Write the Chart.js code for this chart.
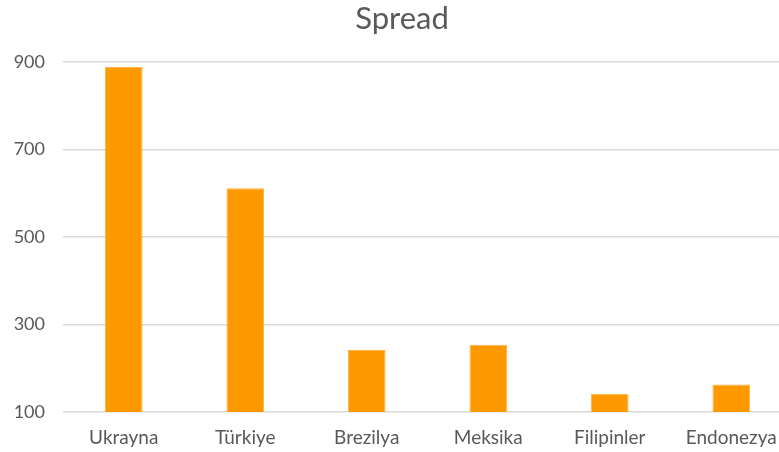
<!DOCTYPE html>
<html>
<head>
<meta charset="utf-8">
<script src="https://cdn.jsdelivr.net/npm/chart.js@4/dist/chart.umd.min.js"></script>
<style>
  html, body { margin: 0; padding: 0; background: #fff; overflow: hidden; }
  #wrap { width: 792px; height: 452px; }
</style>
</head>
<body>
<div id="wrap"><canvas id="barChart"></canvas></div>
<script>
// data
const countries = ['Ukrayna', 'Türkiye', 'Brezilya', 'Meksika', 'Filipinler', 'Endonezya'];
const spread = [889, 612, 242, 254, 142, 163];
const yTicks = [100, 300, 500, 700, 900];

const ctx = document.getElementById('barChart').getContext('2d');

const data = {
    labels: countries,
    datasets: [{
        label: 'Spread',
        data: spread,
        backgroundColor: '#ff9900',
        borderColor: '#ffb347',
        borderWidth: 1,
        categoryPercentage: 1,
        barPercentage: 0.31
    }]
};

const options = {
    responsive: true,
    maintainAspectRatio: false,
    animation: false,
    layout: { padding: { left: 12, right: 0, top: 0, bottom: 0 } },
    plugins: {
        legend: { display: false },
        tooltip: { enabled: false },
        title: {
            display: true,
            text: 'Spread',
            color: '#595959',
            font: { family: 'Lato', size: 31, weight: 'normal' },
            padding: { top: 0, bottom: 25 }
        }
    },
    scales: {
        x: {
            afterFit: (scale) => { scale.height = 40; },
            grid: { display: false, drawTicks: false },
            border: { display: false },
            ticks: {
                color: '#595959',
                font: { family: 'Lato', size: 19 },
                padding: 14,
                maxRotation: 0
            }
        },
        y: {
            min: yTicks[0],
            max: yTicks[yTicks.length - 1],
            afterBuildTicks: (scale) => { scale.ticks = yTicks.map(v => ({ value: v })); },
            afterFit: (scale) => { scale.width = 51; },
            grid: { color: '#d9d9d9', lineWidth: 1.5, drawTicks: false },
            border: { display: false },
            ticks: {
                color: '#595959',
                font: { family: 'Lato', size: 18 },
                padding: 18
            }
        }
    }
};

const myChart = new Chart(ctx, {
    type: 'bar',
    data: data,
    options: options
});
</script>
</body>
</html>
